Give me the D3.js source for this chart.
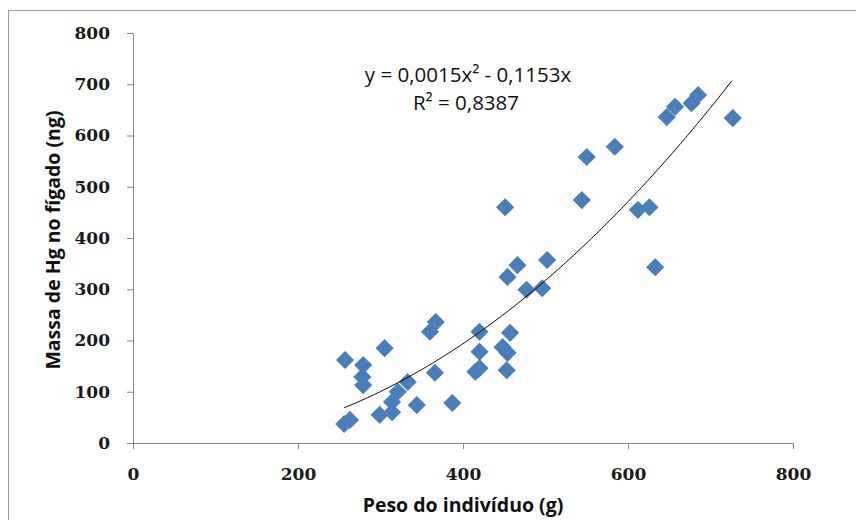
<!DOCTYPE html>
<html>
<head>
<meta charset="utf-8">
<script src="https://cdn.jsdelivr.net/npm/d3@7"></script>
<style>
  body { margin: 0; background: #fff; }
</style>
</head>
<body>
<svg id="chart" width="856" height="520"></svg>
<script>
// peso do individuo (g) / massa de Hg no figado (ng)
const peso = [257, 256, 263, 279, 278, 279, 305, 299, 314, 314, 321, 333, 344, 366, 360, 367, 387,
  415, 420, 420, 420, 448, 454, 457, 453, 451, 454, 466, 477, 496, 502, 544, 550, 584, 612, 626,
  633, 647, 657, 677, 685, 727];
const massa = [162, 37, 45, 152, 129, 113, 185, 55, 60, 80, 100, 119, 74, 137, 217, 236, 78,
  139, 146, 178, 217, 187, 176, 215, 142, 460, 324, 347, 299, 302, 357, 474, 558, 578, 455, 460,
  343, 636, 656, 663, 679, 634];
const xTicks = [0, 200, 400, 600, 800];
const yTicks = [0, 100, 200, 300, 400, 500, 600, 700, 800];
// linha de tendencia polinomial: y = 0,0015x^2 - 0,1153x
const coefA = 0.0015, coefB = -0.1153;

const svg = d3.select("#chart");

svg.append("rect")
  .attr("x", 8.5).attr("y", 10.5)
  .attr("width", 900).attr("height", 600)
  .attr("fill", "none")
  .attr("stroke", "#9a9a9a");

const x = d3.scaleLinear().domain([0, 800]).range([133, 793]);
const y = d3.scaleLinear().domain([0, 800]).range([443, 33]);

const tickFont = "'DejaVu Serif', serif";

svg.append("g")
  .attr("transform", "translate(0,443)")
  .call(d3.axisBottom(x).tickValues(xTicks).tickSize(6).tickPadding(19).tickSizeOuter(0))
  .call(g => g.selectAll(".domain, .tick line").attr("stroke", "#868686"))
  .call(g => g.selectAll(".tick text")
    .attr("fill", "#1a1a1a")
    .style("font-family", tickFont)
    .style("font-weight", "bold")
    .style("font-size", "17px"));

svg.append("g")
  .attr("transform", "translate(133,0)")
  .call(d3.axisLeft(y).tickValues(yTicks).tickSize(6).tickPadding(17).tickSizeOuter(0))
  .call(g => g.selectAll(".domain, .tick line").attr("stroke", "#868686"))
  .call(g => g.selectAll(".tick text")
    .attr("fill", "#1a1a1a")
    .style("font-family", tickFont)
    .style("font-weight", "bold")
    .style("font-size", "17px"));

// pontos
const pontos = peso.map((p, i) => ({ p: p, m: massa[i] }));
const diamond = d3.symbol(d3.symbolSquare, 165);

svg.append("g")
  .selectAll("path")
  .data(pontos)
  .enter().append("path")
  .attr("d", diamond)
  .attr("transform", d => `translate(${x(d.p)},${y(d.m)}) rotate(45)`)
  .attr("fill", "#4a7ebb");

// tendencia
const xMin = d3.min(peso), xMax = d3.max(peso);
const curva = d3.range(xMin, xMax + 1, 2).map(v => [v, coefA * v * v + coefB * v]);
svg.append("path")
  .datum(curva)
  .attr("fill", "none")
  .attr("stroke", "#000")
  .attr("stroke-width", 1)
  .attr("d", d3.line().x(d => x(d[0])).y(d => y(d[1])));

// equacao
const eq = svg.append("g")
  .style("font-family", "'Open Sans', sans-serif")
  .style("font-size", "20.5px")
  .attr("fill", "#111")
  .attr("text-anchor", "middle");
eq.append("text").attr("x", 468).attr("y", 82).text("y = 0,0015x² - 0,1153x");
eq.append("text").attr("x", 466).attr("y", 110).text("R² = 0,8387");

// titulos dos eixos
svg.append("text")
  .attr("x", 463).attr("y", 512)
  .attr("text-anchor", "middle")
  .style("font-family", "'Open Sans', sans-serif")
  .style("font-weight", "bold")
  .style("font-size", "19.5px")
  .attr("fill", "#111")
  .text("Peso do indivíduo (g)");

svg.append("text")
  .attr("transform", "translate(60,240) rotate(-90)")
  .attr("text-anchor", "middle")
  .style("font-family", "'Open Sans', sans-serif")
  .style("font-weight", "bold")
  .style("font-size", "19.5px")
  .attr("fill", "#111")
  .text("Massa de Hg no fígado (ng)");
</script>
</body>
</html>
